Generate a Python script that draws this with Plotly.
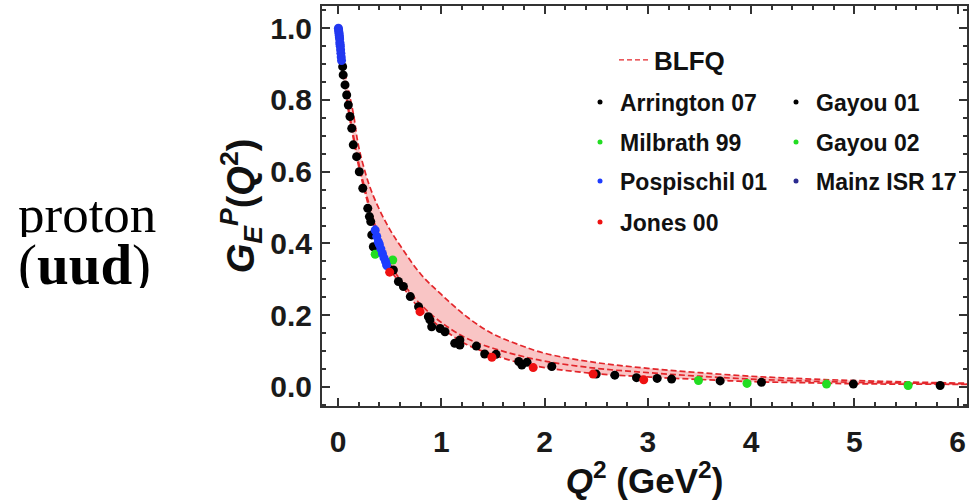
import plotly.graph_objects as go

# ---------------- data ----------------
# BLFQ band (upper / middle / lower dashed curves)
blfq_q2 = [0.0, 0.05, 0.1, 0.15, 0.2, 0.3, 0.4, 0.5, 0.6, 0.8, 1.0, 1.25, 1.5, 1.75,
           2.0, 2.5, 3.0, 3.5, 4.0, 4.5, 5.0, 5.5, 6.0, 6.15]
blfq_upper = [1.0, 0.905, 0.83, 0.76, 0.67, 0.565, 0.495, 0.44, 0.395, 0.315, 0.258, 0.195,
              0.148, 0.118, 0.094, 0.068, 0.052, 0.040, 0.030, 0.023, 0.018, 0.014, 0.011, 0.010]
blfq_middle = [1.0, 0.875, 0.78, 0.70, 0.625, 0.51, 0.415, 0.345, 0.30, 0.23, 0.18, 0.135,
               0.108, 0.088, 0.072, 0.052, 0.040, 0.030, 0.022, 0.017, 0.013, 0.011, 0.009, 0.009]
blfq_lower = [1.0, 0.87, 0.77, 0.69, 0.615, 0.50, 0.40, 0.33, 0.29, 0.215, 0.165, 0.118,
              0.09, 0.068, 0.054, 0.037, 0.028, 0.021, 0.015, 0.012, 0.009, 0.008, 0.0075, 0.0075]

arrington_q2 = [0.045, 0.05, 0.068, 0.084, 0.10, 0.116, 0.133, 0.148, 0.18, 0.206, 0.24,
                0.288, 0.304, 0.317, 0.327, 0.342, 0.585, 0.875, 0.89, 0.907, 1.036,
                1.13, 1.18, 1.34, 1.42, 1.53, 1.75, 1.83, 2.07, 2.68, 2.89, 3.09, 3.70,
                4.10, 4.99, 5.83]
arrington_ge = [0.893, 0.87, 0.842, 0.814, 0.786, 0.754, 0.721, 0.675, 0.642, 0.60, 0.554,
                0.498, 0.475, 0.461, 0.424, 0.391, 0.294, 0.196, 0.187, 0.168, 0.154,
                0.122, 0.131, 0.114, 0.092, 0.091, 0.071, 0.069, 0.057, 0.033, 0.026,
                0.024, 0.017, 0.013, 0.008, 0.004]

gayou01_q2 = [0.536, 0.633, 0.70, 0.78, 0.988, 1.18, 1.78, 2.50, 3.23]
gayou01_ge = [0.326, 0.280, 0.252, 0.224, 0.163, 0.117, 0.061, 0.036, 0.022]

milbrath_q2 = [0.36, 0.53]
milbrath_ge = [0.37, 0.354]

gayou02_q2 = [3.49, 3.96, 4.73, 5.52]
gayou02_ge = [0.018, 0.010, 0.008, 0.004]

pospischil_q2 = [0.36, 0.375, 0.39, 0.40, 0.415, 0.43, 0.445, 0.46, 0.47]
pospischil_ge = [0.437, 0.42, 0.405, 0.398, 0.385, 0.372, 0.36, 0.35, 0.34]
pospischil_err = [0.012, 0.012, 0.012, 0.012, 0.012, 0.012, 0.012, 0.012, 0.012]

mainz_q2 = [0.004, 0.006, 0.008, 0.010, 0.012, 0.014, 0.016, 0.018, 0.020, 0.022,
            0.025, 0.028, 0.031, 0.034]
mainz_ge = [1.0, 0.995, 0.99, 0.985, 0.98, 0.975, 0.97, 0.96, 0.955, 0.95,
            0.94, 0.93, 0.92, 0.91]

jones_q2 = [0.50, 0.794, 1.49, 1.89, 2.47, 2.96]
jones_ge = [0.32, 0.21, 0.083, 0.054, 0.036, 0.020]

x_ticks = [0, 1, 2, 3, 4, 5, 6]
y_ticks = [0.0, 0.2, 0.4, 0.6, 0.8, 1.0]
y_tick_text = ["0.0", "0.2", "0.4", "0.6", "0.8", "1.0"]

# ---------------- figure ----------------
RED = "#e3262b"
FONT = "Liberation Sans"
DASH = "6px,3px"

fig = go.Figure()

# band
fig.add_trace(go.Scatter(x=blfq_q2, y=blfq_lower, mode="lines", line_shape="spline",
                         line=dict(color=RED, width=1.7, dash=DASH),
                         showlegend=False, hoverinfo="skip"))
fig.add_trace(go.Scatter(x=blfq_q2, y=blfq_upper, mode="lines", line_shape="spline",
                         line=dict(color=RED, width=1.7, dash=DASH),
                         fill="tonexty", fillcolor="rgba(244,150,150,0.55)",
                         showlegend=False, hoverinfo="skip"))
fig.add_trace(go.Scatter(x=blfq_q2, y=blfq_middle, mode="lines", line_shape="spline",
                         line=dict(color=RED, width=1.7, dash=DASH),
                         showlegend=False, hoverinfo="skip"))

series = [
    ("Arrington 07", arrington_q2, arrington_ge, "#000000", None),
    ("Gayou 01", gayou01_q2, gayou01_ge, "#000000", None),
    ("Milbrath 99", milbrath_q2, milbrath_ge, "#22dd22", None),
    ("Gayou 02", gayou02_q2, gayou02_ge, "#22dd22", None),
    ("Pospischil 01", pospischil_q2, pospischil_ge, "#1e3cff", pospischil_err),
    ("Mainz ISR 17", mainz_q2, mainz_ge, "#2238f0", None),
    ("Jones 00", jones_q2, jones_ge, "#ee1111", None),
]
for name, xs, ys, col, err in series:
    kw = {}
    if err is not None:
        kw["error_y"] = dict(type="data", array=err, color=col, thickness=1, width=2)
    fig.add_trace(go.Scatter(x=xs, y=ys, mode="markers", name=name,
                             marker=dict(color=col, size=9), showlegend=False, **kw))

# legends
fig.add_trace(go.Scatter(x=[None], y=[None], mode="lines", name="BLFQ",
                         line=dict(color=RED, width=1.4, dash="5px,3px"),
                         legend="legend", showlegend=True))
rows = [["Arrington 07", "Gayou 01"], ["Milbrath 99", "Gayou 02"],
        ["Pospischil 01", "Mainz ISR 17"], ["Jones 00"]]
colors = {n: c for n, _, _, c, _ in series}
colors["Mainz ISR 17"] = "#2a2a90"
for i, row in enumerate(rows):
    for n in row:
        fig.add_trace(go.Scatter(x=[None], y=[None], mode="markers", name=n,
                                 marker=dict(color=colors[n], size=5),
                                 legend=f"legend{i+2}", showlegend=True))

def py(pix):
    return (406 - pix) / 400.0

def px(pix):
    return (pix - 322) / 645.0

legend_common = dict(bgcolor="rgba(0,0,0,0)", borderwidth=0, xanchor="left",
                     yanchor="middle", orientation="h", itemclick=False,
                     itemdoubleclick=False)
layout_legends = {}
layout_legends["legend"] = dict(x=px(614), y=py(60),
                                font=dict(family=FONT, size=26, color="#111", weight="bold"),
                                **legend_common)
row_y = [102, 142, 181, 222]
for i, yy in enumerate(row_y):
    layout_legends[f"legend{i+2}"] = dict(
        x=px(580), y=py(yy), entrywidth=151, entrywidthmode="pixels",
        font=dict(family=FONT, size=23, color="#111", weight="bold"),
        **legend_common)

tickfont = dict(family=FONT, size=30, color="#1a1a1a", weight="bold")
fig.update_layout(
    width=970, height=500,
    margin=dict(l=322, r=3, t=6, b=94, autoexpand=False),
    paper_bgcolor="white", plot_bgcolor="white",
    showlegend=True,
    **layout_legends,
    xaxis=dict(range=[-0.155, 6.09], tickvals=x_ticks, ticks="inside", ticklen=8,
               tickwidth=1.5, tickcolor="#333", showline=True, linecolor="#333",
               linewidth=2, mirror="ticks", showgrid=False, zeroline=False,
               tickfont=tickfont, ticklabelstandoff=8,
               minor=dict(dtick=0.2, ticks="inside", ticklen=4, tickcolor="#333", showgrid=False),
               title=dict(text="<i>Q</i><sup>2</sup> (GeV<sup>2</sup>)",
                          font=dict(family=FONT, size=35, color="#111", weight="bold"),
                          standoff=10)),
    yaxis=dict(range=[-0.053, 1.062], tickvals=y_ticks, ticktext=y_tick_text,
               ticks="inside", ticklen=8, tickwidth=1.5, tickcolor="#333",
               showline=True, linecolor="#333", linewidth=2, mirror="ticks",
               showgrid=False, zeroline=False, tickfont=tickfont, ticklabelstandoff=2,
               minor=dict(dtick=0.05, ticks="inside", ticklen=4, tickcolor="#333", showgrid=False),
               title=dict(text="<i>G</i><sub><i>E</i></sub><sup><i>P</i></sup>(<i>Q</i><sup>2</sup>)",
                          font=dict(family=FONT, size=38, color="#111", weight="bold"),
                          standoff=4)),
    annotations=[
        dict(text="proton", xref="paper", yref="paper", x=px(16), y=py(214),
             xanchor="left", yanchor="middle", showarrow=False, height=46, valign="middle",
             font=dict(family="Liberation Serif", size=53, color="#000")),
        dict(text="(<b>uud</b>)", xref="paper", yref="paper", x=px(16), y=py(265),
             xanchor="left", yanchor="middle", showarrow=False, height=46, valign="middle",
             font=dict(family="Liberation Serif", size=57, color="#000")),
    ],
)

fig.write_html("out.html")
